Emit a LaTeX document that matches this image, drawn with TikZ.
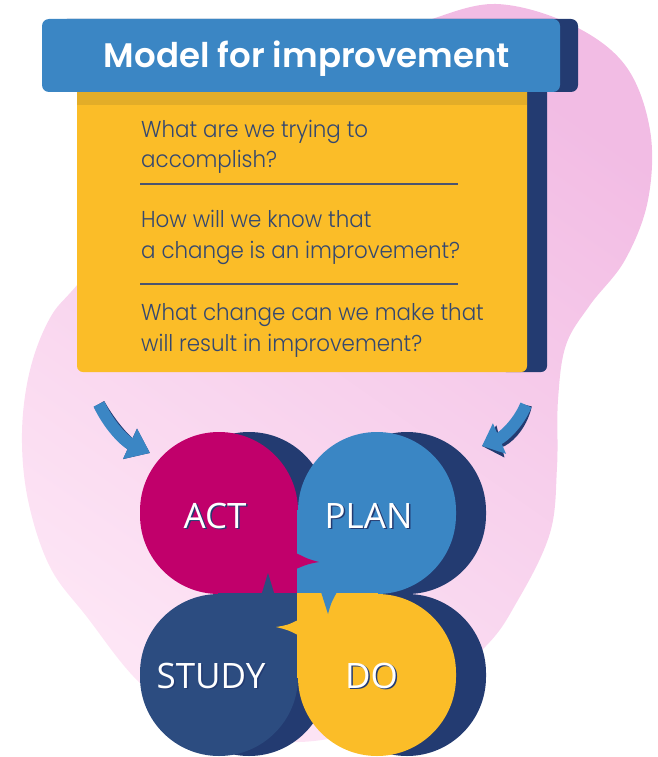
\documentclass[tikz,border=0pt]{standalone}
\usepackage{fontspec}
\usetikzlibrary{arrows.meta}
\newfontfamily\bodyfont{Poppins}[UprightFont=* Light, FakeStretch=0.93]
\newfontfamily\titlefont{Poppins}[UprightFont=* SemiBold]
\newfontfamily\labelfont{Open Sans}
\definecolor{pinkA}{HTML}{F2BCE4}
\definecolor{pinkM}{HTML}{F9D4EE}
\definecolor{pinkB}{HTML}{FDE5F5}
\definecolor{titleblue}{HTML}{3B86C4}
\definecolor{navy}{HTML}{233B71}
\definecolor{yellowc}{HTML}{FBBD28}
\definecolor{goldc}{HTML}{E3AD28}
\definecolor{actc}{HTML}{C1006B}
\definecolor{studyc}{HTML}{2C4C80}
\definecolor{planc}{HTML}{3A86C4}
\definecolor{textc}{HTML}{344870}
\definecolor{linec}{HTML}{4A5470}
\newcommand\quadfill[4]{%
  \begin{scope}[shift={(#2,594)}, xscale=#3, yscale=#4]
    \fill[#1] (0,0) -- (0,-83) .. controls (0,-126.6) and (-35.4,-162) .. (-79,-162)
      .. controls (-122.6,-162) and (-158,-126.6) .. (-158,-83) -- (-158,-79)
      .. controls (-158,-35.4) and (-122.6,0) .. (-79,0) -- cycle;
    \fill[#1] (-80,-2) rectangle (0.6,0.6);
    \fill[#1] (-2,-84) rectangle (0.6,0.6);
  \end{scope}}
\tikzset{
  bodytext/.style={anchor=base west, inner sep=0pt, text=textc, font=\bodyfont\fontsize{23}{27}\selectfont},
  lbl/.style={anchor=base, inner sep=0pt, text=white, font=\labelfont\fontsize{35}{40}\selectfont},
  lblsh/.style={anchor=base, inner sep=0pt, text=navy, font=\labelfont\fontsize{35}{40}\selectfont},
  sepline/.style={draw=linec, line width=1.3pt},
  bluearrow/.style={draw=titleblue, line width=12pt},
  shadowarrow/.style={draw=navy, line width=12pt},
}
\begin{document}
\begin{tikzpicture}[x=1pt, y=-1pt]
\useasboundingbox (0,0) rectangle (658,757);
% pink background blob
\shade[top color=pinkA, middle color=pinkM, bottom color=pinkB, shading angle=-35]
  plot[smooth cycle, tension=0.6] coordinates {
  (496,4) (570,24) (625,65) (650,130) (648,200) (625,260) (590,305) (566,345)
  (558,400) (557,467) (550,533) (518,600) (482,650) (400,715) (300,742) (200,722)
  (140,683) (87,617) (50,567) (28,500) (22,433) (30,370) (50,318) (78,284)
  (150,200) (280,100) (380,40) (429,20)};
% yellow box with navy side strip
\fill[navy] (500,92) -- (547,92) -- (547,250) [rounded corners=6pt] -- (547,372) -- (500,372) [sharp corners] -- cycle;
\fill[yellowc] (300,92) -- (527,92) -- (527,200) [rounded corners=6pt] -- (527,372) -- (77,372) -- (77,200) [sharp corners] -- (77,92) -- cycle;
\fill[goldc] (77,92) rectangle (527,105);
% title bar
\fill[navy, rounded corners=7pt] (60,19) rectangle (578,92);
\fill[titleblue, rounded corners=7pt] (42,19) rectangle (560,92);
\node[anchor=base, inner sep=0pt, text=white, font=\titlefont\fontsize{34}{40}\selectfont] (title) at (307,68) {Model for improvement};
% questions
\node[bodytext] (q1a) at (141,137) {What are we trying to};
\node[bodytext] (q1b) at (141,167) {accomplish?};
\node[bodytext] (q2a) at (141,227) {How will we know that};
\node[bodytext] (q2b) at (141,258) {a change is an improvement?};
\node[bodytext] (q3a) at (141,320) {What change can we make that};
\node[bodytext] (q3b) at (141,351) {will result in improvement?};
\draw[sepline] (140,184) -- (458,184);
\draw[sepline] (140,284) -- (458,284);
% curved arrows
\coordinate (la1) at (99,404);
\coordinate (la2) at (150,453);
\coordinate (ra1) at (526,405);
\coordinate (ra2) at (482,446);
\begin{scope}[shift={(3,1.5)}]
\draw[shadowarrow, -{Triangle[length=22pt,width=32pt]}] (la1) .. controls (108,424) and (124,441) .. (la2);
\end{scope}
\draw[bluearrow, -{Triangle[length=22pt,width=32pt]}] (la1) .. controls (108,424) and (124,441) .. (la2);
\begin{scope}[shift={(3,3)}]
\draw[shadowarrow, -{Triangle[length=19pt,width=32pt]}] (ra1) .. controls (518,424) and (503,437) .. (ra2);
\end{scope}
\draw[bluearrow, -{Triangle[length=19pt,width=32pt]}] (ra1) .. controls (518,424) and (503,437) .. (ra2);
% PDSA shadows
\quadfill{navy}{328}{1}{1}
\quadfill{navy}{328}{-1}{1}
\quadfill{navy}{328}{1}{-1}
\quadfill{navy}{328}{-1}{-1}
% PDSA shapes
\quadfill{actc}{298}{1}{1}
\quadfill{planc}{298}{-1}{1}
\quadfill{studyc}{298}{1}{-1}
\quadfill{yellowc}{298}{-1}{-1}
% pointers
\fill[actc] (296,553) .. controls (308,559) .. (319,562) .. controls (308,564) .. (296,569) -- cycle;
\fill[studyc] (261,596) .. controls (265,585) .. (268,573) .. controls (271,585) .. (275,596) -- cycle;
\fill[planc] (321,592) .. controls (325,603) .. (328,614) .. controls (331,603) .. (337,592) -- cycle;
\fill[yellowc] (300,619) .. controls (288,625) .. (276,627) .. controls (288,630) .. (300,636) -- cycle;
% labels
\node[lblsh] (actsh) at (216.5,529.5) {ACT};
\node[lbl] (act) at (215,528) {ACT};
\node[lblsh] (plansh) at (370,529.5) {PLAN};
\node[lbl] (plan) at (368.5,528) {PLAN};
\node[lblsh] (studysh) at (212.5,689.5) {STUDY};
\node[lbl] (study) at (211,688) {STUDY};
\node[lblsh] (dosh) at (373,689.5) {DO};
\node[lbl] (do) at (371.5,688) {DO};
\end{tikzpicture}
\end{document}
